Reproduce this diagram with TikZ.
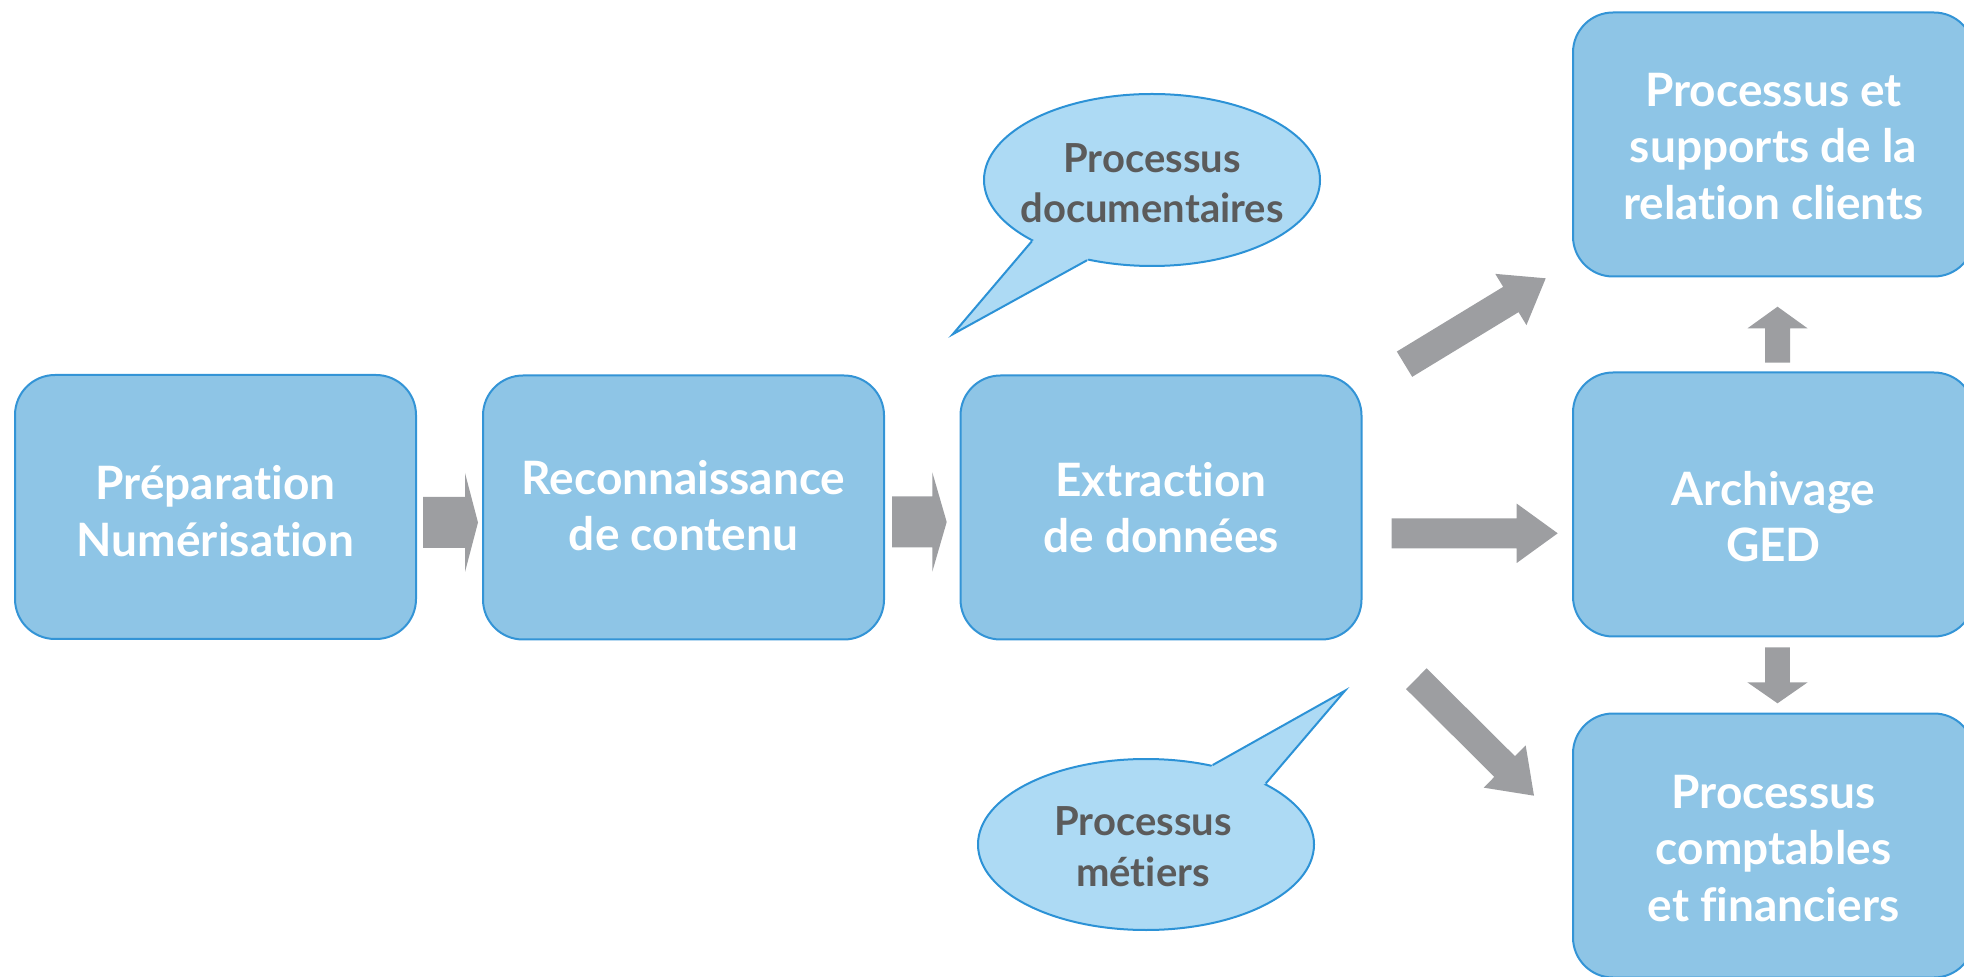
\documentclass[tikz,border=0pt]{standalone}
\usepackage{fontspec}
\setmainfont{Lato}[Ligatures={NoCommon,NoRequired,NoContextual}]
\usetikzlibrary{calc,shapes.geometric}
\definecolor{boxfill}{HTML}{8EC5E6}
\definecolor{boxline}{HTML}{3394D6}
\definecolor{bubfill}{HTML}{ADDAF4}
\definecolor{bubline}{HTML}{2C92D6}
\definecolor{arrowgray}{HTML}{9D9EA1}
\definecolor{bubtext}{HTML}{5B5B5B}
% #1 tail coordinate, #2 tip coordinate, #3 shaft half width, #4 head half width, #5 head length
\newcommand{\blockarrow}[5]{%
  \coordinate (#1-hb) at ($(#2)!#5!(#1)$);
  \fill[arrowgray] ($(#1)!#3!90:(#2)$) -- ($(#1-hb)!#3!90:(#2)$) -- ($(#1-hb)!#4!90:(#2)$)
    -- (#2) -- ($(#1-hb)!#4!-90:(#2)$) -- ($(#1-hb)!#3!-90:(#2)$) -- ($(#1)!#3!-90:(#2)$) -- cycle;
}
\tikzset{
  stagebox/.style={draw=boxline, line width=1pt, fill=boxfill, rounded corners=20pt,
    minimum width=200.5pt, minimum height=132pt, inner sep=0pt},
  stagetext/.style={text=white, inner sep=0pt,
    font=\bfseries\fontsize{23}{28.35}\selectfont, align=center},
  bubble/.style={ellipse, draw=bubline, line width=1pt, fill=bubfill, inner sep=0pt,
    minimum width=168pt, minimum height=86pt},
  bubbletext/.style={text=bubtext, font=\bfseries\fontsize{20}{25.2}\selectfont, align=center, inner sep=0pt},
  bubbletail/.style={draw=bubline, line width=1pt, line join=miter}
}
\begin{document}
\begin{tikzpicture}[x=0.5pt, y=-0.5pt]
\useasboundingbox (0,0) rectangle (1964,977);
\clip (0,0) rectangle (1964,977);

% stage boxes
\node[stagebox] (prep) at (215.5,507) {};
\node[stagebox] (reco) at (683.5,507.5) {};
\node[stagebox] (extr) at (1161,507.5) {};
\node[stagebox] (rel)  at (1773.5,144.5) {};
\node[stagebox] (ged)  at (1773.5,504.5) {};
\node[stagebox] (cpt)  at (1773.5,845.5) {};
\node[stagetext] (prept) at ([yshift=-2pt]prep.center) {Préparation\\Numérisation};
\node[stagetext] (recot) at ([yshift=1pt]reco.center) {Reconnaissance\\de contenu};
\node[stagetext] (extrt) at (extr.center) {Extraction\\de données};
\node[stagetext] (relt)  at ([yshift=-1pt]rel.center) {Processus et\\supports de la\\relation clients};
\node[stagetext] (gedt)  at ([yshift=-6pt]ged.center) {Archivage\\GED};
\node[stagetext] (cptt)  at ([yshift=-1.5pt]cpt.center) {Processus\\comptables\\et financiers};

% bubbles
\node[bubble] (b1) at (1152,180) {};
\coordinate (b1tip) at (952.7,334.3);
\fill[bubfill] (b1.207.8) -- (b1tip) -- (b1.231) -- (b1.center) -- cycle;
\draw[bubbletail] (b1.207.8) -- (b1tip) -- (b1.231);
\node[bubbletext] (b1t) at ([yshift=-1.5pt]b1.center) {Processus\\documentaires};

\node[bubble, minimum height=85.5pt] (b2) at (1146,844.5) {};
\coordinate (b2tip) at (1345,690.7);
\fill[bubfill] (b2.50.8) -- (b2tip) -- (b2.27.6) -- (b2.center) -- cycle;
\draw[bubbletail] (b2.50.8) -- (b2tip) -- (b2.27.6);
\node[bubbletext] (b2t) at ([xshift=-1.5pt,yshift=-1pt]b2.center) {Processus\\métiers};

% block arrows
\coordinate (a1s) at (423,522.5);   \coordinate (a1e) at (478,522.5);
\coordinate (a2s) at (892,522);     \coordinate (a2e) at (946.7,522);
\coordinate (a3s) at (1391.7,533.3);\coordinate (a3e) at (1557.7,533.3);
\coordinate (a4s) at (1404.5,364.2);\coordinate (a4e) at (1545.7,278.3);
\coordinate (a5s) at (1416.3,678.7);\coordinate (a5e) at (1534,795.7);
\coordinate (a6s) at (1777.5,362.7);\coordinate (a6e) at (1777.5,306.7);
\coordinate (a7s) at (1777.5,647.3);\coordinate (a7e) at (1777.5,703.3);

\blockarrow{a1s}{a1e}{12.75pt}{24.75pt}{6.5pt}
\blockarrow{a2s}{a2e}{12.75pt}{24.85pt}{7.2pt}
\blockarrow{a3s}{a3e}{7.5pt}{14.85pt}{20.5pt}
\blockarrow{a4s}{a4e}{7.4pt}{15pt}{20.4pt}
\blockarrow{a5s}{a5e}{7.3pt}{14.9pt}{20.7pt}
\blockarrow{a6s}{a6e}{6.25pt}{15pt}{10.8pt}
\blockarrow{a7s}{a7e}{6.2pt}{15.1pt}{10.5pt}
\end{tikzpicture}
\end{document}
